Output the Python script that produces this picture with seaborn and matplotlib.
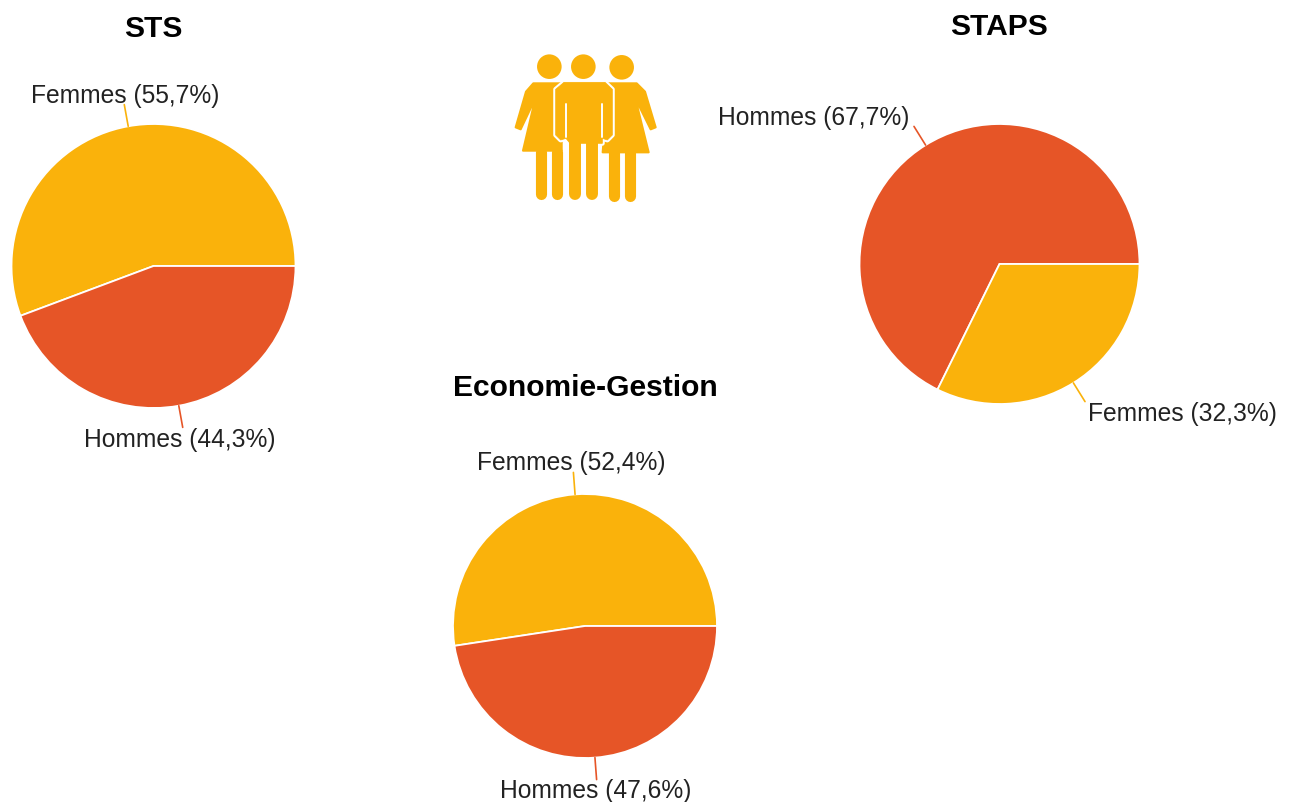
import matplotlib
matplotlib.use('Agg')
import matplotlib.pyplot as plt
from matplotlib.patches import Circle, Polygon
import numpy as np
import seaborn as sns

titles = ['STS', 'STAPS', 'Economie-Gestion']
sts_labels = ['Femmes', 'Hommes']
sts_values = [55.7, 44.3]
staps_labels = ['Hommes', 'Femmes']
staps_values = [67.7, 32.3]
eco_labels = ['Femmes', 'Hommes']
eco_values = [52.4, 47.6]

W, H = 1294, 802
YELLOW = '#FAB20B'
ORANGE = '#E65527'
colors = {'Femmes': YELLOW, 'Hommes': ORANGE}

sns.set_theme(style='white')
plt.rcParams['font.family'] = ['Liberation Sans', 'DejaVu Sans']


def flip(y):
    return H - y


def draw_pie(ax, title, labels, values, center, radius, title_pos, label_pos):
    cx, cy = center
    wedges, _ = ax.pie(values, colors=[colors[l] for l in labels], startangle=0,
                       center=(cx, flip(cy)), radius=radius, frame=True,
                       wedgeprops={'edgecolor': 'white', 'linewidth': 1.3})
    for wedge, label, value, pos in zip(wedges, labels, values, label_pos):
        mid = np.deg2rad((wedge.theta1 + wedge.theta2) / 2)
        r1, r2 = radius, radius + 22
        ax.plot([cx + r1 * np.cos(mid), cx + r2 * np.cos(mid)],
                [flip(cy) + r1 * np.sin(mid), flip(cy) + r2 * np.sin(mid)],
                color=colors[label], lw=1.2, zorder=1)
        text = f'{label} ({value:.1f}%)'.replace('.', ',')
        ax.text(pos[0], flip(pos[1]), text, ha='center', va='center',
                fontsize=17.7, color='#222222')
    ax.text(title_pos[0], flip(title_pos[1]), title, ha='center', va='center',
            fontsize=21.6, fontweight='bold', color='black')


def zx(x):
    return 490 + x / 3


def zy(y):
    return flip(30 + y / 3)


def shape(ax, pts, **kw):
    ax.add_patch(Polygon([(zx(x), zy(y)) for x, y in pts], closed=True, **kw))


def leg(ax, x, y1, y2, width, color=YELLOW):
    ax.plot([zx(x), zx(x)], [zy(y1), zy(y2)], color=color, lw=width,
            solid_capstyle='round')


def draw_icon(ax):
    fill = {'facecolor': YELLOW, 'edgecolor': YELLOW, 'lw': 1.5, 'joinstyle': 'round'}
    # left woman
    ax.add_patch(Circle((zx(178), zy(110)), 12.3, color=YELLOW, lw=0))
    shape(ax, [(130, 160), (215, 160), (215, 362), (99, 362), (136, 205), (92, 298),
               (77, 292), (108, 185)], **fill)
    leg(ax, 153, 365, 492, 8)
    leg(ax, 200, 365, 492, 8)
    # right woman
    ax.add_patch(Circle((zx(395), zy(112)), 12.3, color=YELLOW, lw=0))
    shape(ax, [(355, 160), (440, 160), (465, 185), (497, 292), (482, 298), (436, 205),
               (476, 367), (338, 367)], **fill)
    leg(ax, 372, 370, 497, 8)
    leg(ax, 420, 370, 497, 8)
    # man in front, white outline separates him from the women
    ax.add_patch(Circle((zx(280), zy(110)), 12.3, color=YELLOW, lw=0))
    man = [(222, 157), (345, 157), (367, 178), (367, 315), (352, 330), (337, 325),
           (337, 340), (322, 340), (240, 340), (228, 325), (212, 330), (197, 315),
           (197, 178)]
    shape(ax, man, facecolor=YELLOW, edgecolor='white', lw=3.5, joinstyle='round')
    shape(ax, man, facecolor=YELLOW, edgecolor=YELLOW, lw=0.5)
    leg(ax, 256, 330, 492, 8.6)
    leg(ax, 305, 330, 492, 8.6)
    leg(ax, 229, 222, 322, 1.4, color='white')
    leg(ax, 335, 222, 322, 1.4, color='white')


fig = plt.figure(figsize=(W / 100, H / 100), dpi=100)
ax = fig.add_axes([0, 0, 1, 1])

draw_pie(ax, titles[0], sts_labels, sts_values, (153.5, 266), 142, (153, 29),
         [(125, 96), (180, 440)])
draw_pie(ax, titles[1], staps_labels, staps_values, (999.5, 264), 140, (999, 27),
         [(814, 118), (1182, 414)])
draw_pie(ax, titles[2], eco_labels, eco_values, (585, 626), 132, (585, 388),
         [(571, 463), (596, 791)])
draw_icon(ax)

ax.set_xlim(0, W)
ax.set_ylim(0, H)
ax.axis('off')
fig.savefig('out.png', dpi=100)
